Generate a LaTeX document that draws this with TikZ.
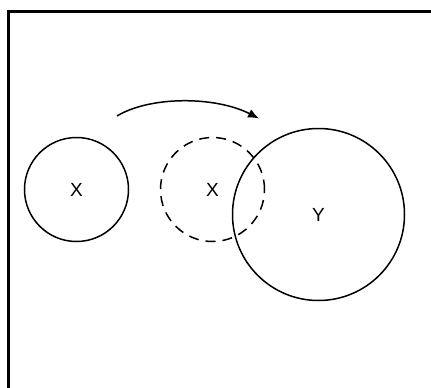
\documentclass[tikz,border=0pt]{standalone}
\usepackage{fontspec}
\setmainfont{Liberation Sans}
\usetikzlibrary{arrows.meta}

\begin{document}
\begin{tikzpicture}[x=1pt,y=-1pt,>={Latex[length=11pt,width=9pt]},
    disc/.style={circle,draw=black,line width=1.5pt,inner sep=0pt,
      font=\fontsize{19}{22}\selectfont}]
  \useasboundingbox (0,0) rectangle (431,388);
  \draw[line width=3pt] (8.5,390) |- (433,11.5);
  \node[disc,minimum size=104pt] (xleft) at (76.5,189.5) {X};
  \node[disc,dash pattern=on 10pt off 7pt,minimum size=104pt] (xmoved) at (212.5,189.5) {X};
  \node[disc,minimum size=172pt] (y) at (318.5,214.5) {Y};
  \coordinate (arrstart) at (117,116);
  \coordinate (arrend) at (259,118.5);
  \draw[->,line width=1.5pt] (arrstart) .. controls (150,96) and (215,96) .. (arrend);
\end{tikzpicture}
\end{document}
